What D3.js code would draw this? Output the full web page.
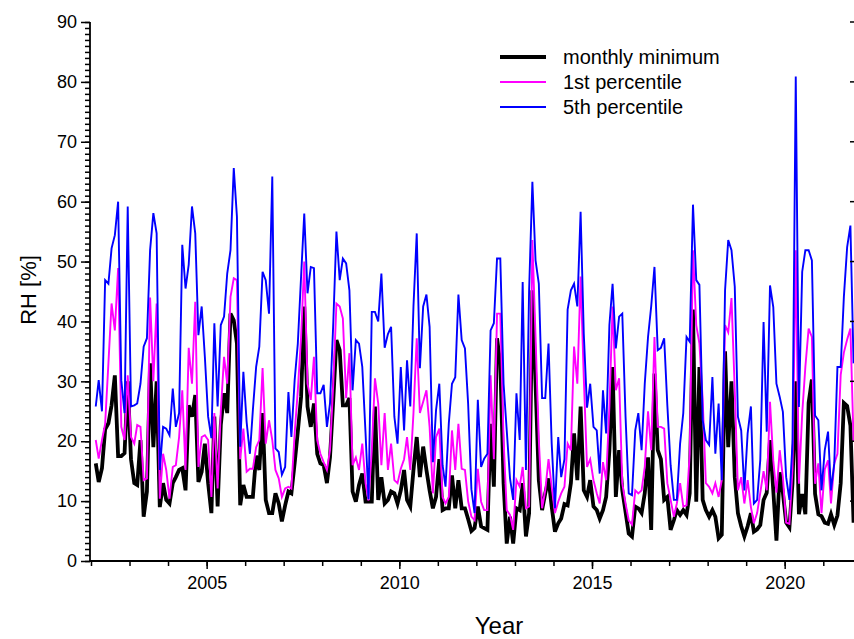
<!DOCTYPE html>
<html>
<head>
<meta charset="utf-8">
<script src="https://cdn.jsdelivr.net/npm/d3@7/dist/d3.min.js"></script>
<style>
  body { margin: 0; background: #fff; }
  svg { display: block; }
  text { font-family: "Liberation Sans", Arial, sans-serif; fill: #000; }
</style>
</head>
<body>
<script>
// Monthly relative humidity statistics, first value = February 2002
const startYear = 2002;
const startMonth = 1; // 0-based month index (February)

const rhMin = [
  16.3, 13.2, 15.5, 22.0, 23.0, 26.0, 31.0, 17.5, 17.5, 18.0, 30.0, 17.0,
  13.0, 12.7, 20.2, 7.4, 11.6, 33.0, 19.0, 30.0, 9.0, 13.0, 10.2, 9.6,
  13.0, 14.0, 15.2, 15.5, 11.8, 26.0, 24.1, 27.7, 13.2, 14.9, 19.6, 13.0,
  8.0, 24.1, 9.1, 22.7, 28.0, 24.7, 41.3, 40.2, 36.3, 9.3, 12.7, 10.7,
  10.7, 10.7, 17.6, 15.2, 24.7, 10.2, 8.0, 8.0, 11.3, 9.6, 6.6, 9.3,
  11.6, 11.3, 16.3, 21.6, 27.4, 42.5, 25.8, 22.4, 26.3, 17.9, 16.3, 16.0,
  13.0, 17.3, 26.9, 36.9, 35.2, 26.0, 26.0, 27.2, 11.6, 9.9, 12.7, 14.6,
  9.9, 9.9, 9.9, 25.8, 10.2, 14.0, 9.6, 10.2, 11.6, 11.3, 9.6, 11.8,
  15.2, 10.2, 9.1, 15.2, 20.7, 14.0, 19.1, 15.2, 11.8, 8.8, 10.7, 17.0,
  8.5, 8.8, 8.8, 14.3, 8.8, 13.5, 8.8, 8.8, 7.0, 5.0, 5.5, 9.1,
  5.8, 5.5, 5.2, 22.9, 12.4, 37.2, 33.0, 13.0, 2.9, 7.4, 2.9, 8.8,
  8.5, 13.0, 4.1, 8.0, 45.2, 29.6, 13.5, 8.5, 11.3, 13.8, 9.1, 4.9,
  6.3, 7.1, 9.5, 9.3, 13.0, 21.3, 13.5, 25.8, 11.8, 10.7, 13.5, 9.1,
  8.5, 7.1, 8.5, 10.7, 18.5, 32.4, 10.7, 18.5, 11.8, 8.2, 4.6, 4.1,
  9.1, 8.8, 8.0, 11.3, 17.3, 5.2, 31.3, 18.5, 17.0, 10.2, 10.7, 5.2,
  6.8, 8.5, 7.7, 8.5, 7.7, 11.3, 42.0, 9.9, 32.4, 10.2, 8.5, 7.4,
  8.5, 7.4, 3.8, 4.4, 35.0, 19.0, 30.0, 14.0, 8.0, 5.8, 4.1, 5.8,
  8.0, 4.9, 5.3, 6.0, 10.2, 11.4, 20.2, 11.8, 3.4, 14.8, 11.4, 6.4,
  5.6, 13.0, 30.0, 7.8, 11.2, 7.8, 26.4, 30.3, 11.2, 7.8, 7.5, 6.4,
  6.2, 7.8, 6.0, 7.6, 13.0, 26.4, 25.9, 22.6, 6.4
];

const rhP1 = [
  20.2, 17.1, 20.2, 22.9, 33.0, 43.0, 38.5, 48.9, 22.4, 20.2, 31.0, 20.7,
  19.6, 22.7, 22.4, 13.5, 13.8, 44.0, 30.0, 43.0, 10.4, 17.9, 15.2, 10.4,
  15.7, 16.0, 20.7, 28.5, 15.2, 35.6, 29.6, 43.3, 15.7, 20.7, 21.0, 20.2,
  10.7, 24.7, 12.1, 25.0, 34.1, 29.6, 44.1, 47.2, 46.9, 17.0, 22.1, 14.9,
  15.4, 15.4, 19.0, 20.2, 32.2, 19.6, 23.5, 20.2, 15.2, 13.8, 10.7, 12.1,
  12.4, 12.1, 21.3, 28.5, 37.4, 50.0, 29.6, 26.9, 34.1, 20.2, 17.9, 16.5,
  15.2, 18.5, 29.6, 43.0, 42.5, 40.5, 27.2, 34.7, 16.0, 17.3, 15.2, 19.6,
  13.0, 10.1, 18.5, 30.5, 26.3, 16.0, 24.7, 15.2, 19.6, 13.5, 13.0, 15.4,
  17.0, 20.7, 15.2, 24.7, 37.2, 24.7, 26.6, 28.5, 22.4, 11.3, 20.7, 22.1,
  10.7, 9.6, 10.7, 21.8, 15.2, 22.9, 15.4, 15.2, 10.0, 7.4, 6.8, 15.4,
  9.9, 8.5, 8.5, 31.0, 17.0, 41.3, 41.3, 20.2, 8.5, 7.7, 5.2, 13.5,
  12.4, 15.7, 8.8, 9.1, 53.6, 37.4, 20.2, 8.8, 11.8, 17.0, 12.4, 8.0,
  9.9, 11.3, 12.4, 19.6, 18.5, 35.8, 29.6, 47.5, 30.7, 15.7, 17.0, 13.5,
  11.3, 9.6, 16.5, 13.5, 25.8, 42.5, 28.5, 30.5, 13.0, 9.6, 6.8, 6.1,
  11.8, 11.3, 11.8, 15.7, 25.0, 18.5, 37.4, 22.4, 22.4, 22.1, 13.0, 10.2,
  7.4, 9.6, 13.0, 9.1, 9.3, 17.9, 51.9, 39.4, 36.3, 26.9, 13.0, 12.4,
  11.3, 13.0, 10.7, 13.5, 39.4, 38.2, 43.9, 28.5, 11.8, 14.0, 9.6, 13.5,
  9.0, 6.3, 8.0, 11.4, 15.0, 11.8, 26.6, 16.8, 11.4, 18.5, 14.0, 6.4,
  6.2, 15.3, 51.9, 12.9, 24.6, 32.4, 38.8, 37.4, 12.9, 16.3, 8.0, 15.3,
  16.8, 9.6, 16.3, 17.9, 31.1, 34.8, 37.0, 38.8, 20.0
];

const rhP5 = [
  25.8, 30.2, 25.0, 46.9, 46.3, 52.2, 54.4, 60.0, 30.2, 24.7, 59.2, 25.8,
  26.0, 26.3, 29.6, 35.8, 37.2, 51.9, 58.1, 54.7, 15.2, 22.4, 22.1, 21.0,
  28.8, 22.4, 24.7, 52.8, 45.5, 49.5, 59.2, 54.7, 37.7, 42.5, 34.1, 24.1,
  20.5, 39.7, 25.8, 39.4, 40.8, 48.0, 51.9, 65.6, 57.5, 19.1, 31.6, 23.2,
  17.9, 25.2, 32.4, 35.8, 48.3, 46.9, 41.3, 64.2, 18.8, 18.2, 14.4, 15.7,
  28.2, 20.7, 30.2, 36.3, 47.5, 58.0, 44.7, 49.1, 48.9, 28.0, 28.0, 29.4,
  22.4, 26.3, 39.7, 55.0, 46.9, 50.5, 49.7, 45.2, 28.5, 36.9, 36.3, 32.4,
  21.3, 10.3, 41.6, 41.6, 40.0, 48.0, 35.6, 37.9, 39.1, 24.1, 19.6, 32.4,
  21.8, 33.5, 25.8, 42.5, 54.7, 32.2, 42.5, 44.5, 39.1, 16.5, 25.2, 29.6,
  16.0, 12.4, 23.0, 29.6, 30.7, 44.5, 36.9, 35.5, 26.3, 12.0, 8.0, 26.9,
  15.7, 17.1, 17.9, 38.5, 39.7, 50.5, 50.5, 29.6, 21.8, 13.8, 10.2, 28.0,
  20.2, 46.6, 15.2, 45.2, 63.3, 50.2, 46.3, 27.2, 27.2, 36.3, 19.6, 8.8,
  20.7, 14.0, 17.0, 42.0, 45.2, 46.3, 42.5, 58.3, 38.0, 25.6, 29.6, 22.4,
  21.8, 14.6, 28.5, 21.3, 39.4, 46.3, 35.5, 40.8, 41.3, 24.1, 11.3, 11.0,
  21.8, 24.7, 18.5, 29.6, 37.4, 42.5, 49.1, 35.2, 35.6, 37.2, 26.0, 16.0,
  10.2, 10.2, 19.6, 24.7, 37.4, 36.6, 59.5, 46.9, 46.1, 23.5, 20.2, 19.4,
  30.7, 17.9, 26.3, 13.5, 45.2, 53.6, 51.9, 45.8, 24.1, 21.8, 11.8, 21.3,
  25.8, 9.6, 10.2, 16.9, 39.9, 21.6, 46.0, 42.4, 29.6, 27.4, 24.9, 14.0,
  10.2, 19.6, 80.9, 25.7, 48.3, 51.9, 51.9, 50.2, 24.3, 23.5, 11.8, 18.5,
  21.6, 11.8, 16.3, 32.4, 32.4, 44.1, 52.4, 56.0, 33.0
];

const yTickValues = [0, 10, 20, 30, 40, 50, 60, 70, 80, 90];
const xLabelYears = [2005, 2010, 2015, 2020];
const seriesNames = ["monthly minimum", "1st percentile", "5th percentile"];
const seriesColors = ["#000000", "#ff00ff", "#0000ff"];
const seriesWidths = [3.8, 1.9, 1.9];

const W = 854, H = 639;
const plotLeft = 90, plotRight = 854, plotTop = 22, plotBottom = 561;

const svg = d3.select("body").append("svg")
  .attr("width", W).attr("height", H);

const x = d3.scaleTime()
  .domain([new Date(2002, 0, 1), new Date(2021, 9, 19)])
  .range([plotLeft + 1, plotRight]);
const y = d3.scaleLinear().domain([0, 90]).range([plotBottom, plotTop]);

const dates = rhMin.map((_, i) => new Date(startYear, startMonth + i, 15));

svg.append("clipPath").attr("id", "plot-clip")
  .append("rect").attr("x", plotLeft).attr("y", 0)
  .attr("width", plotRight - plotLeft).attr("height", plotBottom + 2);

const line = d3.line()
  .x((d, i) => x(dates[i]))
  .y(d => y(d))
  .curve(d3.curveLinear);

const plot = svg.append("g").attr("clip-path", "url(#plot-clip)");
[rhMin, rhP1, rhP5].forEach((vals, k) => {
  plot.append("path")
    .datum(vals)
    .attr("d", line)
    .attr("fill", "none")
    .attr("stroke", seriesColors[k])
    .attr("stroke-width", seriesWidths[k])
    .attr("stroke-linejoin", "miter")
    .attr("stroke-miterlimit", 4);
});

// Y axis: minor ticks every 1 %, major every 10 %
const yMinor = svg.append("g").attr("transform", `translate(${plotLeft},0)`)
  .call(d3.axisLeft(y).tickValues(d3.range(0, 91, 1)).tickSize(5).tickSizeOuter(0).tickFormat(""));
yMinor.select(".domain").remove();
const yMajor = svg.append("g").attr("transform", `translate(${plotLeft},0)`)
  .call(d3.axisLeft(y).tickValues(yTickValues).tickSize(9).tickSizeOuter(0).tickPadding(4));
yMajor.select(".domain").remove();
yMajor.selectAll("text").style("font-size", "18px");

// Right-hand major ticks at the frame edge
svg.append("g").selectAll("line").data(yTickValues).join("line")
  .attr("x1", plotRight - 4).attr("x2", plotRight)
  .attr("y1", d => y(d)).attr("y2", d => y(d))
  .attr("stroke", "#000").attr("stroke-width", 1.5);

// X axis: a tick each year, labels every five years
const yearTicks = d3.range(2002, 2022).map(yr => new Date(yr, 0, 1));
const xMinor = svg.append("g").attr("transform", `translate(0,${plotBottom})`)
  .call(d3.axisBottom(x).tickValues(yearTicks).tickSize(5).tickSizeOuter(0).tickFormat(""));
xMinor.select(".domain").remove();
const xMajor = svg.append("g").attr("transform", `translate(0,${plotBottom})`)
  .call(d3.axisBottom(x).tickValues(xLabelYears.map(yr => new Date(yr, 0, 1)))
    .tickSize(8).tickSizeOuter(0).tickPadding(7).tickFormat(d3.timeFormat("%Y")));
xMajor.select(".domain").remove();
xMajor.selectAll("text").style("font-size", "18px");

svg.selectAll(".tick line").attr("stroke", "#000").attr("stroke-width", 1.5);

// Axis lines
svg.append("line").attr("x1", plotLeft).attr("x2", plotLeft).attr("y1", plotTop).attr("y2", plotBottom + 0.75)
  .attr("stroke", "#000").attr("stroke-width", 1.8);
svg.append("line").attr("x1", plotLeft - 0.9).attr("x2", plotRight).attr("y1", plotBottom).attr("y2", plotBottom)
  .attr("stroke", "#000").attr("stroke-width", 1.8);

// Axis titles
svg.append("text")
  .attr("transform", `translate(36,290) rotate(-90)`)
  .attr("text-anchor", "middle")
  .style("font-size", "22px")
  .text("RH [%]");
svg.append("text")
  .attr("x", 499).attr("y", 634)
  .attr("text-anchor", "middle")
  .style("font-size", "24px")
  .text("Year");

// Legend
const legend = svg.append("g");
seriesNames.forEach((name, k) => {
  const ly = 57 + k * 25;
  legend.append("line")
    .attr("x1", 500).attr("x2", 546).attr("y1", ly).attr("y2", ly)
    .attr("stroke", seriesColors[k]).attr("stroke-width", k === 0 ? 4 : 1.9);
  legend.append("text")
    .attr("x", 563).attr("y", ly).attr("dy", "0.36em")
    .style("font-size", "20px")
    .text(name);
});
</script>
</body>
</html>
